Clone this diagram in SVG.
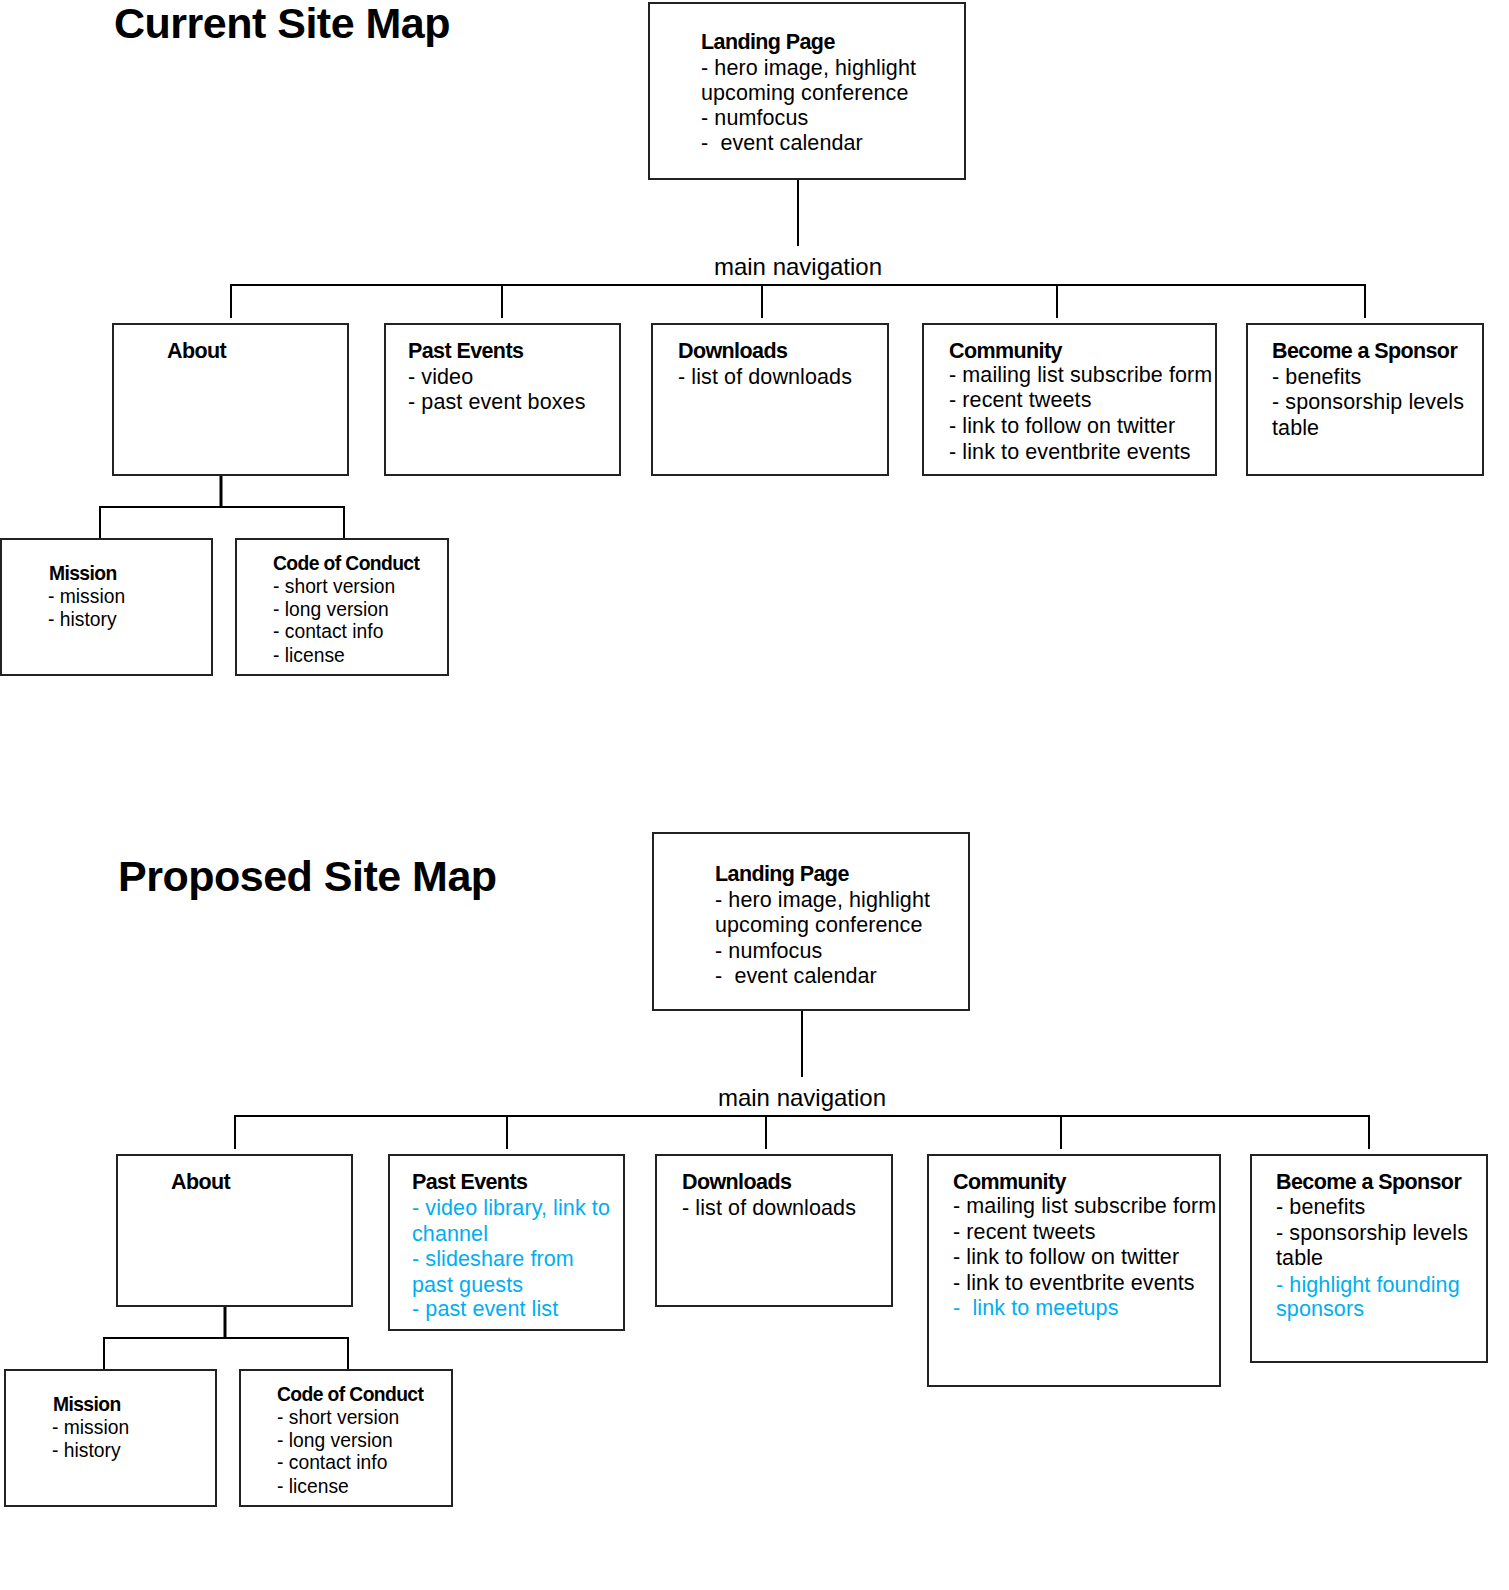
<svg xmlns="http://www.w3.org/2000/svg" width="1509" height="1590" viewBox="0 0 1509 1590">
<style>
.box{fill:#fff;stroke:#222;stroke-width:2}
.ln{fill:none;stroke:#000;stroke-width:2}
.thk{fill:none;stroke:#000;stroke-width:3}
text{font-family:"Liberation Sans",Arial,sans-serif;fill:#000}
.title{font-size:43px;font-weight:bold;letter-spacing:-0.5px}
.t{font-size:21.5px;letter-spacing:0.1px}
.s{font-size:19.3px;letter-spacing:0px}
.b{font-weight:bold;letter-spacing:-0.6px}
.nav{font-size:24px}
.blue{fill:#00AEEF}
</style>
<rect width="1509" height="1590" fill="#fff"/>
<text class="title" x="114" y="38">Current Site Map</text>
<text class="title" x="118" y="891">Proposed Site Map</text>

<g id="connectors">
<path class="ln" d="M798,179V246M231,318V285H1365V318M502,285V318M762,285V318M1057,285V318"/>
<path class="thk" d="M221,475V507"/>
<path class="ln" d="M100,539V507H344V539"/>
<path class="ln" d="M802,1010V1077M235,1149V1116H1369V1149M507,1116V1149M766,1116V1149M1061,1116V1149"/>
<path class="thk" d="M225,1306V1338"/>
<path class="ln" d="M104,1370V1338H348V1370"/>
</g>
<text class="nav" x="798" y="275" text-anchor="middle">main navigation</text>
<text class="nav" x="802" y="1106" text-anchor="middle">main navigation</text>

<g id="landing1">
<rect class="box" x="649" y="3" width="316" height="176"/>
<text class="t"><tspan class="b" x="701" y="49">Landing Page</tspan><tspan x="701" y="75">- hero image, highlight</tspan><tspan x="701" y="100">upcoming conference</tspan><tspan x="701" y="125">- numfocus</tspan><tspan x="701" y="150">-&#160; event calendar</tspan></text>
</g>
<g id="about1">
<rect class="box" x="113" y="324" width="235" height="151"/>
<text class="t b" x="167" y="358">About</text>
</g>
<g id="past1">
<rect class="box" x="385" y="324" width="235" height="151"/>
<text class="t"><tspan class="b" x="408" y="358">Past Events</tspan><tspan x="408" y="384">- video</tspan><tspan x="408" y="409">- past event boxes</tspan></text>
</g>
<g id="downloads1">
<rect class="box" x="652" y="324" width="236" height="151"/>
<text class="t"><tspan class="b" x="678" y="358">Downloads</tspan><tspan x="678" y="384">- list of downloads</tspan></text>
</g>
<g id="community1">
<rect class="box" x="923" y="324" width="293" height="151"/>
<text class="t"><tspan class="b" x="949" y="358">Community</tspan><tspan x="949" y="382">- mailing list subscribe form</tspan><tspan x="949" y="407">- recent tweets</tspan><tspan x="949" y="433">- link to follow on twitter</tspan><tspan x="949" y="459">- link to eventbrite events</tspan></text>
</g>
<g id="sponsor1">
<rect class="box" x="1247" y="324" width="236" height="151"/>
<text class="t"><tspan class="b" x="1272" y="358">Become a Sponsor</tspan><tspan x="1272" y="384">- benefits</tspan><tspan x="1272" y="409">- sponsorship levels</tspan><tspan x="1272" y="435">table</tspan></text>
</g>
<g id="mission1">
<rect class="box" x="1" y="539" width="211" height="136"/>
<text class="s"><tspan class="b" x="49" y="580">Mission</tspan><tspan x="48" y="603">- mission</tspan><tspan x="48" y="626">- history</tspan></text>
</g>
<g id="coc1">
<rect class="box" x="236" y="539" width="212" height="136"/>
<text class="s"><tspan class="b" x="273" y="570">Code of Conduct</tspan><tspan x="273" y="593">- short version</tspan><tspan x="273" y="616">- long version</tspan><tspan x="273" y="638">- contact info</tspan><tspan x="273" y="662">- license</tspan></text>
</g>

<g id="landing2">
<rect class="box" x="653" y="833" width="316" height="177"/>
<text class="t"><tspan class="b" x="715" y="881">Landing Page</tspan><tspan x="715" y="907">- hero image, highlight</tspan><tspan x="715" y="932">upcoming conference</tspan><tspan x="715" y="958">- numfocus</tspan><tspan x="715" y="983">-&#160; event calendar</tspan></text>
</g>
<g id="about2">
<rect class="box" x="117" y="1155" width="235" height="151"/>
<text class="t b" x="171" y="1189">About</text>
</g>
<g id="past2">
<rect class="box" x="389" y="1155" width="235" height="175"/>
<text class="t"><tspan class="b" x="412" y="1189">Past Events</tspan><tspan class="blue" x="412" y="1215">- video library, link to</tspan><tspan class="blue" x="412" y="1241">channel</tspan><tspan class="blue" x="412" y="1266">- slideshare from</tspan><tspan class="blue" x="412" y="1292">past guests</tspan><tspan class="blue" x="412" y="1316">- past event list</tspan></text>
</g>
<g id="downloads2">
<rect class="box" x="656" y="1155" width="236" height="151"/>
<text class="t"><tspan class="b" x="682" y="1189">Downloads</tspan><tspan x="682" y="1215">- list of downloads</tspan></text>
</g>
<g id="community2">
<rect class="box" x="928" y="1155" width="292" height="231"/>
<text class="t"><tspan class="b" x="953" y="1189">Community</tspan><tspan x="953" y="1213">- mailing list subscribe form</tspan><tspan x="953" y="1239">- recent tweets</tspan><tspan x="953" y="1264">- link to follow on twitter</tspan><tspan x="953" y="1290">- link to eventbrite events</tspan><tspan class="blue" x="953" y="1315">-&#160; link to meetups</tspan></text>
</g>
<g id="sponsor2">
<rect class="box" x="1251" y="1155" width="236" height="207"/>
<text class="t"><tspan class="b" x="1276" y="1189">Become a Sponsor</tspan><tspan x="1276" y="1214">- benefits</tspan><tspan x="1276" y="1240">- sponsorship levels</tspan><tspan x="1276" y="1265">table</tspan><tspan class="blue" x="1276" y="1292">- highlight founding</tspan><tspan class="blue" x="1276" y="1316">sponsors</tspan></text>
</g>
<g id="mission2">
<rect class="box" x="5" y="1370" width="211" height="136"/>
<text class="s"><tspan class="b" x="53" y="1411">Mission</tspan><tspan x="52" y="1434">- mission</tspan><tspan x="52" y="1457">- history</tspan></text>
</g>
<g id="coc2">
<rect class="box" x="240" y="1370" width="212" height="136"/>
<text class="s"><tspan class="b" x="277" y="1401">Code of Conduct</tspan><tspan x="277" y="1424">- short version</tspan><tspan x="277" y="1447">- long version</tspan><tspan x="277" y="1469">- contact info</tspan><tspan x="277" y="1493">- license</tspan></text>
</g>
</svg>
